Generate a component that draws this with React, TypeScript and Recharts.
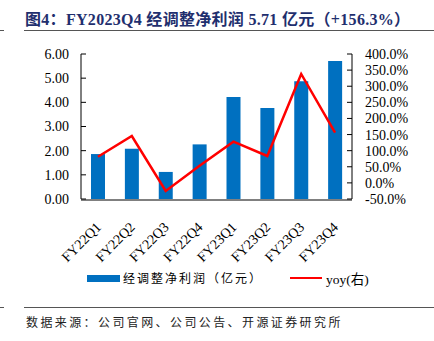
import React from 'react';
import { ComposedChart, Bar, Line, XAxis, YAxis } from 'recharts';

const quarters = ['FY22Q1', 'FY22Q2', 'FY22Q3', 'FY22Q4', 'FY23Q1', 'FY23Q2', 'FY23Q3', 'FY23Q4'];
const adjustedProfit = [1.86, 2.08, 1.12, 2.26, 4.22, 3.77, 4.87, 5.71];
const yoy = [81.3, 145.5, -25.0, 53.0, 128.0, 83.4, 338.0, 156.3];
const leftTicks = [0, 1, 2, 3, 4, 5, 6];
const rightTicks = [-50, 0, 50, 100, 150, 200, 250, 300, 350, 400];

const data = quarters.map((q, i) => ({ q, profit: adjustedProfit[i], yoy: yoy[i] }));
const boundaryTicks = [...quarters.map((_, i) => i), quarters.length];

const FONT = '"Liberation Serif", "Noto Sans CJK SC", serif';
const BLUE = '#0070C0';
const RED = '#FF0000';

// rotated quarter label, text ends just right of the category centre
const QuarterTick = ({ x, y, payload }: any) => {
  const ax = x + 4;
  const ay = y + 21;
  return (
    <text
      x={ax}
      y={ay}
      transform={`rotate(-45, ${ax}, ${ay})`}
      textAnchor="end"
      fontSize={14}
      fontFamily={FONT}
      fill="#000"
    >
      {payload.value}
    </text>
  );
};

const ChartLegend = () => (
  <div
    style={{
      position: 'absolute',
      top: 270,
      left: 87,
      height: 16,
      display: 'flex',
      alignItems: 'center',
      fontFamily: FONT,
      fontSize: 12,
      color: '#000',
      whiteSpace: 'nowrap',
    }}
  >
    <span style={{ display: 'inline-block', width: 33, height: 7, background: BLUE }} />
    <span style={{ marginLeft: 3, letterSpacing: 2 }}>经调整净利润（亿元）</span>
    <span style={{ display: 'inline-block', width: 32, height: 2.5, background: RED, marginLeft: 27 }} />
    <span style={{ marginLeft: 4, fontSize: 13.5 }}>yoy(右)</span>
  </div>
);

export default function App() {
  return (
    <div style={{ position: 'absolute', left: 0, top: 0, width: 434, height: 341, background: '#fff', fontFamily: FONT }}>
      <div
        style={{
          position: 'absolute',
          left: 25,
          top: 6,
          fontSize: 16,
          letterSpacing: 0.3,
          fontWeight: 'bold',
          color: '#1f2f6e',
          whiteSpace: 'nowrap',
        }}
      >
        图4：FY2023Q4 经调整净利润 5.71 亿元（+156.3%）
      </div>
      <div style={{ position: 'absolute', left: 0, top: 30, width: 4, height: 1, background: '#555' }} />
      <div style={{ position: 'absolute', left: 24, top: 30, width: 410, height: 1, background: '#555' }} />

      <div style={{ position: 'absolute', left: 0, top: 0 }}>
        <ComposedChart
          width={434}
          height={264}
          data={data}
          margin={{ top: 54, right: 0, left: 0, bottom: 63 }}
        >
          <XAxis
            xAxisId="grid"
            type="number"
            domain={[0, quarters.length]}
            ticks={boundaryTicks}
            interval={0}
            tick={false}
            tickSize={-5}
            height={1}
            axisLine={{ stroke: '#000' }}
            tickLine={{ stroke: '#000' }}
          />
          <XAxis
            xAxisId="cat"
            dataKey="q"
            height={1}
            axisLine={false}
            tickLine={false}
            interval={0}
            tick={<QuarterTick />}
          />
          <YAxis
            yAxisId="left"
            width={81}
            domain={[0, 6]}
            ticks={leftTicks}
            interval={0}
            tickFormatter={(v: number) => v.toFixed(2)}
            tickSize={-5}
            tickMargin={17}
            axisLine={{ stroke: '#000' }}
            tickLine={{ stroke: '#000' }}
            tick={{ fill: '#000', fontSize: 14, fontFamily: FONT }}
          />
          <YAxis
            yAxisId="right"
            orientation="right"
            width={82}
            domain={[-50, 400]}
            ticks={rightTicks}
            interval={0}
            tickFormatter={(v: number) => `${v.toFixed(1)}%`}
            tickSize={-5}
            tickMargin={18}
            axisLine={{ stroke: '#000' }}
            tickLine={{ stroke: '#000' }}
            tick={{ fill: '#000', fontSize: 14, fontFamily: FONT, textAnchor: 'start' }}
          />
          <Bar
            xAxisId="cat"
            yAxisId="left"
            dataKey="profit"
            fill={BLUE}
            barSize={14}
            isAnimationActive={false}
          />
          <Line
            xAxisId="cat"
            yAxisId="right"
            dataKey="yoy"
            type="linear"
            stroke={RED}
            strokeWidth={2.5}
            dot={false}
            activeDot={false}
            isAnimationActive={false}
          />
        </ComposedChart>
      </div>

      <ChartLegend />

      <div style={{ position: 'absolute', left: 0, top: 307, width: 4, height: 1, background: '#555' }} />
      <div style={{ position: 'absolute', left: 24, top: 307, width: 410, height: 1, background: '#555' }} />
      <div
        style={{
          position: 'absolute',
          left: 26,
          top: 313,
          fontSize: 12,
          letterSpacing: 2.4,
          color: '#222',
          whiteSpace: 'nowrap',
        }}
      >
        数据来源：公司官网、公司公告、开源证券研究所
      </div>
    </div>
  );
}
